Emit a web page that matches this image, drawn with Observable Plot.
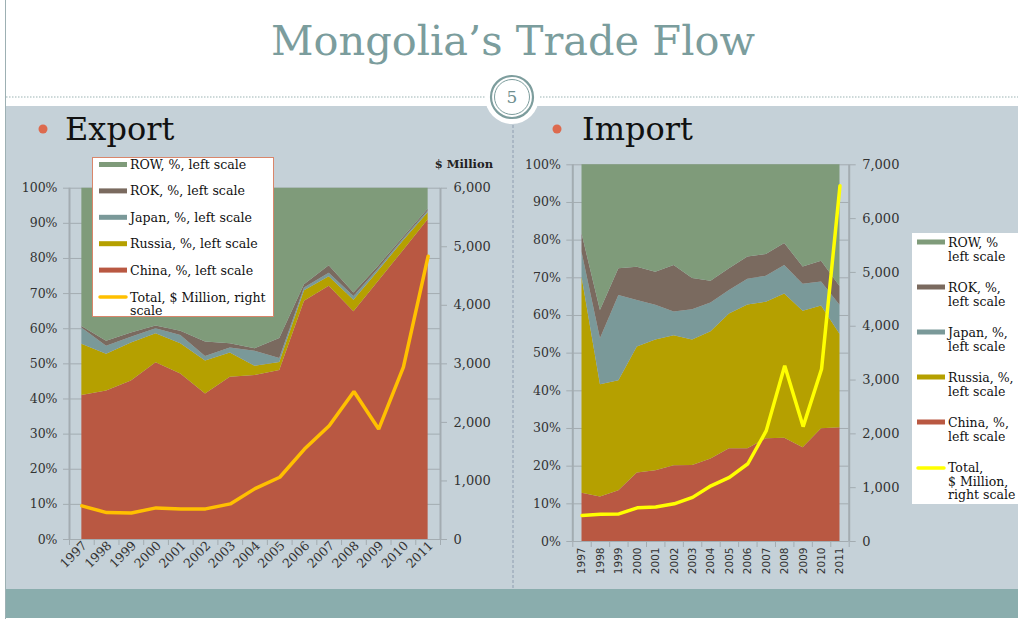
<!DOCTYPE html>
<html><head><meta charset="utf-8">
<script src="https://cdn.jsdelivr.net/npm/d3@7"></script>
<script src="https://cdn.jsdelivr.net/npm/@observablehq/plot@0.6"></script>
<style>
body{margin:0;background:#fff;}
#slide{position:relative;width:1018px;height:619px;background:#fff;overflow:hidden;font-family:"DejaVu Serif",serif;}
.layer{position:absolute;left:0;top:0;}
.chart{position:absolute;}
.chart svg{overflow:visible;}
</style></head>
<body><div id="slide">
<svg class="layer" id="bg" width="1018" height="619"></svg>
<div class="chart" id="expA"></div><div class="chart" id="expB"></div>
<div class="chart" id="impA"></div><div class="chart" id="impB"></div>
<svg class="layer" id="fg" width="1018" height="619"></svg>
</div>
<script>
// ---------- data ----------
const years = [1997,1998,1999,2000,2001,2002,2003,2004,2005,2006,2007,2008,2009,2010,2011];
const regions = ["China","Russia","Japan","ROK","ROW"];
const regionColors = ["#b95842","#b5a000","#7a9999","#7a6a5f","#7f9b7a"];

// Export shares, % of total
const exportChina  = [41.0,42.3,45.1,50.3,47.1,41.4,46.2,46.7,48.1,67.8,72.1,64.8,73.5,82.2,91.0];
const exportRussia = [14.6,10.4,10.8, 8.3, 8.6, 9.4, 6.9, 2.6, 2.3, 3.0, 2.7, 3.3, 2.9, 2.8, 2.0];
const exportJapan  = [ 4.6, 2.3, 1.7, 1.4, 2.4, 1.3, 1.4, 4.3, 1.1, 0.8, 1.0, 1.1, 0.7, 0.5, 0.5];
const exportROK    = [ 0.4, 1.4, 1.2, 0.8, 1.2, 4.1, 1.2, 0.7, 5.7, 0.9, 2.1, 1.0, 0.7, 0.5, 0.5];
const exportROW    = [39.4,43.6,41.2,39.2,40.7,43.8,44.3,45.7,42.8,27.5,22.1,29.8,22.2,14.0, 6.0];
const exportTotal  = [574,460,452,540,523,523,608,869,1063,1545,1943,2528,1886,2945,4838];

// Import shares, % of total
const importChina  = [12.8,11.8,13.5,18.2,18.8,20.1,20.2,21.9,24.6,24.6,27.3,27.4,24.9,29.9,30.2];
const importRussia = [57.4,29.8,29.2,33.4,34.7,34.5,33.3,33.8,35.8,38.2,36.2,38.3,36.2,32.6,24.8];
const importJapan  = [ 6.6,12.2,22.6,12.4, 9.2, 6.3, 8.0, 7.6, 6.2, 6.8, 6.9, 7.6, 7.2, 6.4, 7.7];
const importROK    = [ 4.9, 7.5, 7.1, 8.8, 8.8,12.4, 8.3, 5.8, 5.8, 5.9, 5.8, 5.8, 4.6, 5.5, 5.0];
const importROW    = [18.3,38.7,27.6,27.2,28.5,26.7,30.2,30.9,27.6,24.5,23.8,20.9,27.1,25.6,32.3];
const importTotal  = [483,505,512,625,640,700,820,1035,1190,1445,2060,3265,2135,3205,6610];

const pctTicks = [0,10,20,30,40,50,60,70,80,90,100];
const exportTotalTicks = [0,1000,2000,3000,4000,5000,6000];
const importTotalTicks = [0,1000,2000,3000,4000,5000,6000,7000];

const exportLegend = ["ROW, %, left scale","ROK, %, left scale","Japan, %, left scale","Russia, %, left scale","China, %, left scale"];
const exportLineLegend = ["Total, $ Million, right","scale"];
const importLegend = [["ROW, %","left scale"],["ROK, %,","left scale"],["Japan, %,","left scale"],["Russia, %,","left scale"],["China, %,","left scale"]];
const importLineLegend = ["Total,","$ Million,","right scale"];

// ---------- styles ----------
const gridColor = "#a3acb1";
const textColor = "#333";
const serif = "DejaVu Serif";

function longData(series){
  return regions.flatMap((r,k)=>years.map((y,i)=>({year:y, region:r, share:series[k][i]})));
}
const boundaries = d3.range(years[0]-0.5, years[years.length-1]+1, 1);

function drawChart(idA, idB, box, series, total, totalTicks, lineColor, xLabelOpts){
  const common = {
    width: box.w, height: box.h,
    marginLeft: box.ml, marginRight: box.mr, marginTop: box.mt, marginBottom: box.mb,
    style: {background:"transparent", fontFamily: serif, fontSize:"13px", color:textColor, overflow:"visible"},
    x: {type:"linear", domain:[years[0]-0.5, years[years.length-1]+0.5], axis:null}
  };
  const a = Plot.plot({
    ...common,
    y: {domain:[0,100], axis:null},
    color: {domain: regions, range: regionColors},
    marks: [
      Plot.gridY(pctTicks, {stroke:gridColor, strokeOpacity:1, strokeWidth:1}),
      Plot.areaY(longData(series), {x:"year", y:"share", fill:"region", order:regions}),
      Plot.ruleX([boundaries[0], boundaries[boundaries.length-1]], {y1:0, y2:100, stroke:gridColor, strokeWidth:2}),
      Plot.axisY(pctTicks, {anchor:"left", tickSize:6, tickPadding:6, tickFormat:d=>d+"%", stroke:gridColor, fill:textColor, fontSize:12.5, label:null}),
      Plot.axisX(boundaries, {anchor:"bottom", tickSize:6, tickFormat:()=>"", stroke:gridColor, label:null}),
      Plot.axisX(years, {anchor:"bottom", tickSize:0, label:null, fill:textColor, tickFormat:d=>String(d), ...xLabelOpts})
    ]
  });
  const b = Plot.plot({
    ...common,
    y: {domain:[0, totalTicks[totalTicks.length-1]], axis:null},
    marks: [
      Plot.axisY(totalTicks, {anchor:"right", tickSize:6, tickPadding:7, tickFormat:d3.format(","), stroke:gridColor, fill:textColor, fontSize:13, label:null}),
      Plot.lineY(total, {x:years, stroke:lineColor, strokeWidth:3.5, strokeLinejoin:"miter"})
    ]
  });
  for (const [id, el] of [[idA,a],[idB,b]]) {
    const d = document.getElementById(id);
    d.style.left = box.x + "px"; d.style.top = box.y + "px";
    d.appendChild(el);
  }
}

drawChart("expA","expB",
  {x:0, y:140, w:510, h:450, ml:69, mr:70, mt:47.7, mb:51},
  [exportChina,exportRussia,exportJapan,exportROK,exportROW], exportTotal, exportTotalTicks, "#ffc000",
  {tickRotate:-45, tickPadding:4, fontSize:12.5, fontFamily:serif, dx:3});

drawChart("impA","impB",
  {x:510, y:140, w:400, h:450, ml:62.3, mr:61.3, mt:24.3, mb:49},
  [importChina,importRussia,importJapan,importROK,importROW], importTotal, importTotalTicks, "#ffff00",
  {tickRotate:-90, tickPadding:6, fontSize:10.5, fontFamily:"DejaVu Sans"});

// ---------- slide decorations ----------
const NS = "http://www.w3.org/2000/svg";
function el(parent, tag, attrs, text){
  const e = document.createElementNS(NS, tag);
  for (const k in attrs) e.setAttribute(k, attrs[k]);
  if (text !== undefined) e.textContent = text;
  parent.appendChild(e); return e;
}
const bg = document.getElementById("bg");
el(bg,"line",{x1:5.5,y1:0,x2:5.5,y2:619,stroke:"#9db0b3","stroke-width":1});
el(bg,"rect",{x:6,y:106,width:1012,height:484,fill:"#c5d1d8"});
el(bg,"rect",{x:6,y:589,width:1012,height:29,fill:"#8aadad"});
el(bg,"line",{x1:6,y1:97,x2:1018,y2:97,stroke:"#9bb3b3","stroke-width":1,"stroke-dasharray":"1.5,1.5"});
el(bg,"line",{x1:513,y1:120,x2:513,y2:589,stroke:"#8e9db0","stroke-width":1,"stroke-dasharray":"3,2"});
el(bg,"circle",{cx:512,cy:97,r:27,fill:"#fff"});
el(bg,"circle",{cx:512,cy:97,r:21,fill:"none",stroke:"#7d9d9d","stroke-width":2.2});
el(bg,"circle",{cx:512,cy:97,r:17.5,fill:"none",stroke:"#7d9d9d","stroke-width":1});
el(bg,"text",{x:512,y:103,"text-anchor":"middle","font-family":serif,"font-size":17,fill:"#6f8f8f"},"5");
el(bg,"text",{x:513,y:55,"text-anchor":"middle","font-family":serif,"font-size":41.5,fill:"#7b9d9d"},"Mongolia\u2019s Trade Flow");
el(bg,"circle",{cx:43,cy:129,r:4.5,fill:"#dd6a4e"});
el(bg,"text",{x:65,y:140,"font-family":serif,"font-size":32,fill:"#111"},"Export");
el(bg,"circle",{cx:557,cy:129,r:4.5,fill:"#dd6a4e"});
el(bg,"text",{x:582,y:140,"font-family":serif,"font-size":32,fill:"#111"},"Import");

const fg = document.getElementById("fg");
el(fg,"text",{x:493,y:168,"text-anchor":"end","font-family":serif,"font-size":11.5,"font-weight":"bold",fill:"#222"},"$ Million");

// left legend (top to bottom: ROW .. China, then Total)
el(fg,"rect",{x:92.5,y:157.5,width:181,height:159,fill:"#fff",stroke:"#d9866b","stroke-width":1});
const revColors = regionColors.slice().reverse();
exportLegend.forEach((t,i)=>{
  const yb = 169 + i*26.4;
  el(fg,"rect",{x:99,y:yb-7,width:28,height:5,fill:revColors[i]});
  el(fg,"text",{x:130,y:yb,"font-family":serif,"font-size":12.6,fill:"#111"},t);
});
el(fg,"line",{x1:100,y1:297,x2:126,y2:297,stroke:"#ffc000","stroke-width":3.5,"stroke-linecap":"round"});
exportLineLegend.forEach((t,j)=>el(fg,"text",{x:130,y:301.5+j*13.5,"font-family":serif,"font-size":12.6,fill:"#111"},t));

// right legend
el(fg,"rect",{x:912,y:233,width:110,height:271,fill:"#fff"});
importLegend.forEach((lines,i)=>{
  const yb = 247 + i*45;
  el(fg,"rect",{x:917,y:yb-7.5,width:28,height:5,fill:revColors[i]});
  lines.forEach((t,j)=>el(fg,"text",{x:948,y:yb+j*13.5,"font-family":serif,"font-size":12.5,fill:"#111"},t));
});
el(fg,"line",{x1:918,y1:468,x2:944,y2:468,stroke:"#ffff00","stroke-width":3.5,"stroke-linecap":"round"});
importLineLegend.forEach((t,j)=>el(fg,"text",{x:948,y:472+j*13.5,"font-family":serif,"font-size":12.5,fill:"#111"},t));
</script>
</body></html>
